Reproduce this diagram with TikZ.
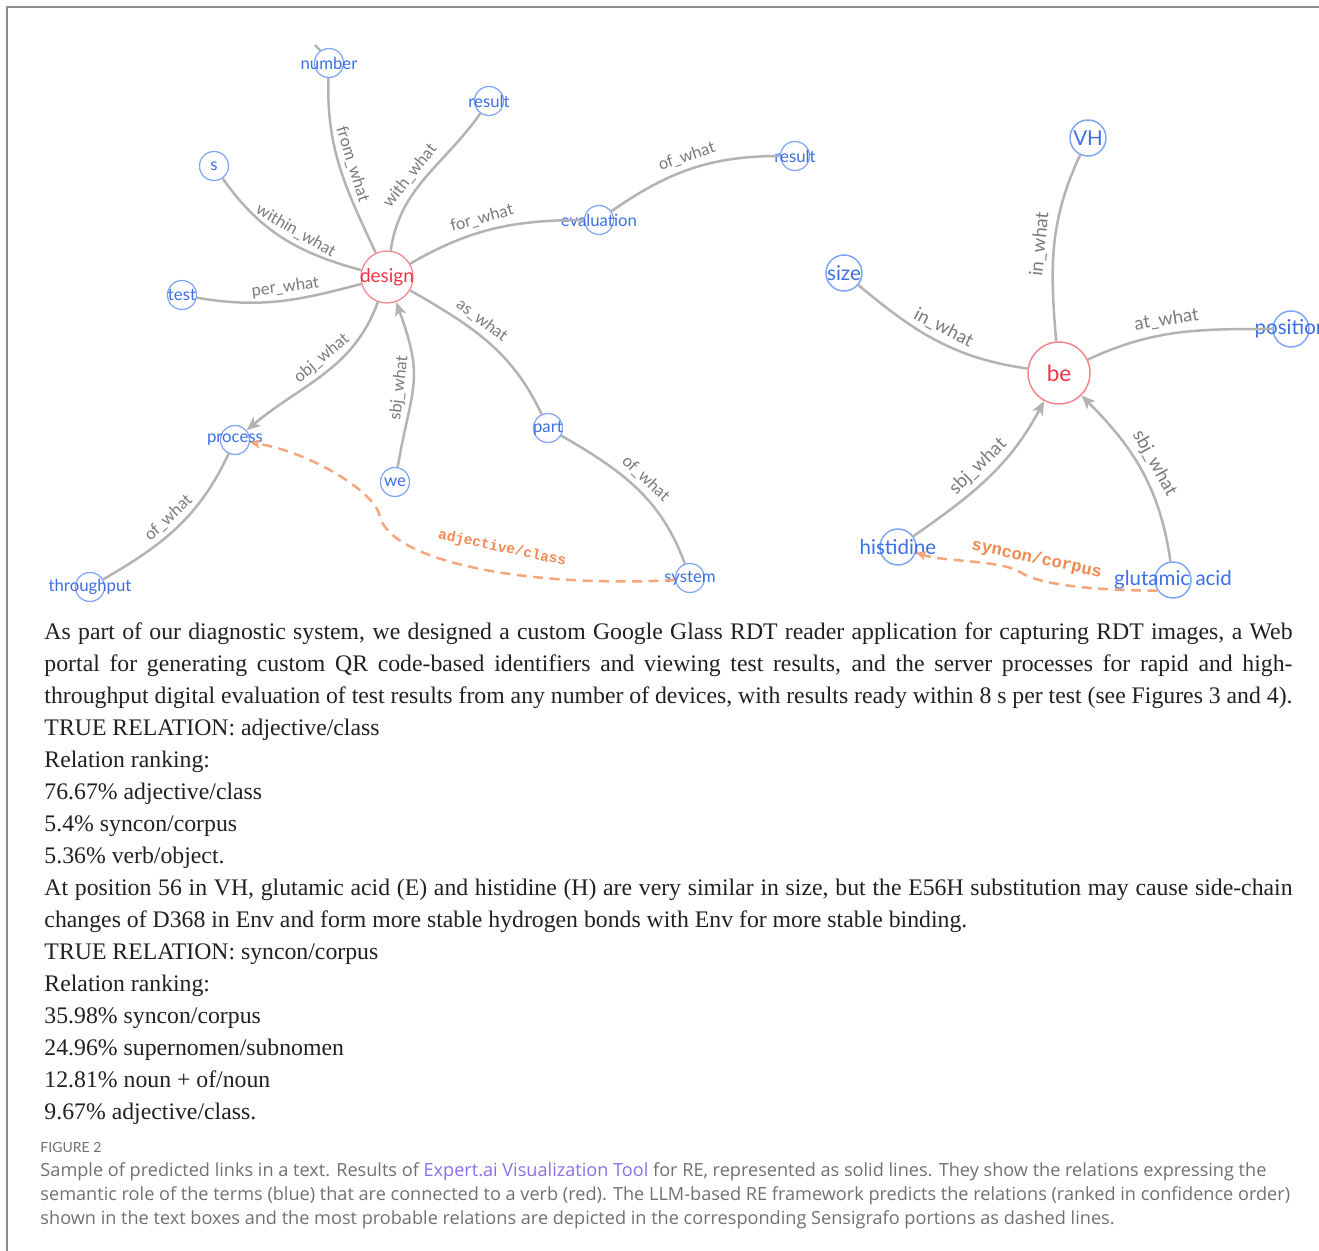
\documentclass[tikz,border=0pt]{standalone}
\usepackage{fontspec}
\setmainfont{Liberation Serif}
\newfontfamily\labelfont{Lato}
\newfontfamily\capfont{Open Sans}
\newfontfamily\relfont{Liberation Mono}
\usetikzlibrary{arrows.meta}
\definecolor{ringblue}{HTML}{7FA6F5}
\definecolor{termblue}{HTML}{3C6FE4}
\definecolor{ringred}{HTML}{F2868C}
\definecolor{verbred}{HTML}{EE3344}
\definecolor{edgegray}{HTML}{B3B3B3}
\definecolor{labelgray}{HTML}{7A7A7A}
\definecolor{guessorange}{HTML}{F5A67C}
\definecolor{guesstext}{HTML}{F08A52}
\definecolor{framegray}{HTML}{8C8C8C}
\definecolor{capgray}{HTML}{707070}
\definecolor{linkviolet}{HTML}{8A6FE8}
\definecolor{bodyblack}{HTML}{231F20}
\newcommand{\fullline}[1]{\hbox to 499.2pt{#1}}

\begin{document}
\begin{tikzpicture}[x=0.4pt,y=0.4pt,
  term/.style={circle,draw=ringblue,line width=0.5pt,inner sep=0pt,minimum size=11.6pt,
    label={[text=termblue,font=\labelfont\fontsize{6.7}{7}\selectfont]center:#1}},
  bigterm/.style={circle,draw=ringblue,line width=0.6pt,inner sep=0pt,minimum size=14.4pt,
    label={[text=termblue,font=\labelfont\fontsize{8.2}{9}\selectfont]center:#1}},
  verb/.style={circle,draw=ringred,line width=0.5pt,inner sep=0pt,minimum size=20.8pt,
    label={[text=verbred,font=\labelfont\fontsize{7.6}{8}\selectfont]center:#1}},
  bigverb/.style={circle,draw=ringred,line width=0.6pt,inner sep=0pt,minimum size=24.8pt,
    label={[text=verbred,font=\labelfont\fontsize{9}{10}\selectfont]center:#1}},
  rel/.style={draw=edgegray,line width=1pt},
  arr/.style={rel,-{Stealth[length=5.5pt,width=4.6pt,inset=1.4pt]}},
  guess/.style={draw=guessorange,line width=1pt,dash pattern=on 4pt off 2.6pt,
    -{Stealth[length=4pt,width=3.6pt,inset=0.8pt]}},
  relname/.style={text=labelgray,font=\labelfont\fontsize{6.6}{7}\selectfont,inner sep=1.8pt},
  bigrelname/.style={text=labelgray,font=\labelfont\fontsize{7.4}{8}\selectfont,inner sep=2pt},
  guessname/.style={text=guesstext,font=\relfont\bfseries\fontsize{5.8}{6}\selectfont,inner sep=1.5pt},
  bigguessname/.style={text=guesstext,font=\relfont\bfseries\fontsize{6.8}{7}\selectfont,inner sep=1.5pt},
  textline/.style={anchor=base west,inner sep=0pt,text=bodyblack,font=\fontsize{9.5}{11}\selectfont},
  capline/.style={anchor=base west,inner sep=0pt,text=capgray,font=\capfont\fontsize{7.25}{8}\selectfont}]
  \useasboundingbox (0,0) rectangle (1319,-1251);
  \clip (0,0) rectangle (1319,-1251);
  % frame
  \draw[framegray,line width=0.8pt] (7,-1251) -- (7,-7) -- (1319,-7);

  % left graph: design
  \node[verb=design] (design) at (387,-277) {};
  \node[term=number] (number) at (329,-63) {};
  \node[term=result] (result1) at (489,-101) {};
  \node[term=s] (s) at (214,-166) {};
  \node[term=evaluation] (evaluation) at (599,-220) {};
  \node[term=result] (result2) at (795,-156) {};
  \node[term=test] (test) at (182,-295) {};
  \node[term=process] (process) at (235,-440) {};
  \node[term=we] (we) at (395,-482) {};
  \node[term=part] (part) at (548,-428) {};
  \node[term=throughput] (throughput) at (90,-587) {};
  \node[term=system] (system) at (690,-578) {};
  \coordinate (offedge) at (315,-45);
  \coordinate (adjbend) at (380,-517);

  \draw[rel] (number.125) -- (offedge);
  \draw[rel] (number) to[out=-92,in=115] node[relname,pos=.5,sloped,above] {from\_what} (design);
  \draw[rel] (design) to[out=82,in=-125] node[relname,pos=.45,sloped,above] {with\_what} (result1);
  \draw[rel] (s) to[out=-55,in=165] node[relname,pos=.55,sloped,above] {within\_what} (design);
  \draw[rel] (design) to[out=30,in=180] node[relname,pos=.45,sloped,above] {for\_what} (evaluation);
  \draw[rel] (evaluation) to[out=35,in=180] node[relname,pos=.5,sloped,above] {of\_what} (result2);
  \draw[rel] (test) to[out=-10,in=195] node[relname,pos=.55,sloped,above] {per\_what} (design);
  \draw[rel] (design) to[out=-30,in=115] node[relname,pos=.4,sloped,above] {as\_what} (part);
  \draw[rel] (part) to[out=-30,in=110] node[relname,pos=.5,sloped,above] {of\_what} (system);
  \draw[arr] (design) to[out=-110,in=40] node[relname,pos=.45,sloped,above] {obj\_what} (process);
  \draw[arr] (we) to[out=80,in=-70,looseness=1.3] node[relname,pos=.45,sloped,above] {sbj\_what} (design);
  \draw[rel] (process) to[out=-115,in=30] node[relname,pos=.5,sloped,above] {of\_what} (throughput);
  \draw[guess] (system.188) .. controls (520,-588) and (392,-560) .. node[guessname,pos=.43,rotate=-12,above=5pt] {adjective/class} (adjbend)
    .. controls (376,-492) and (310,-452) .. (process);

  % right graph: be
  \node[bigverb=be] (be) at (1059,-373) {};
  \node[bigterm=VH] (VH) at (1088,-138) {};
  \node[bigterm=size] (size) at (844,-273) {};
  \node[bigterm=position] (position) at (1291,-329) {};
  \node[bigterm=histidine] (histidine) at (898,-547) {};
  \node[bigterm=glutamic acid] (glutamic) at (1173,-580) {};
  \coordinate (synbend) at (1020,-572);

  \draw[rel] (be) to[out=95,in=-115] node[bigrelname,pos=.5,sloped,above] {in\_what} (VH);
  \draw[rel] (size) to[out=-40,in=172] node[bigrelname,pos=.5,sloped,above] {in\_what} (be);
  \draw[rel] (be) to[out=25,in=180] node[bigrelname,pos=.45,sloped,above] {at\_what} (position);
  \draw[arr] (histidine) to[out=35,in=-118] node[bigrelname,pos=.5,sloped,above] {sbj\_what} (be);
  \draw[arr] (glutamic) to[out=98,in=-45] node[bigrelname,pos=.5,sloped,above] {sbj\_what} (be);
  \draw[guess] (glutamic.215) .. controls (1090,-590) and (1040,-585) .. node[bigguessname,pos=.83,rotate=-12,above=2.5pt] {syncon/corpus} (synbend)
    .. controls (1000,-560) and (945,-562) .. (histidine);

  % sample text
  \node[textline] (line1) at (44,-639) {\fullline{As part of our diagnostic system, we designed a custom Google Glass RDT reader application for capturing RDT images, a Web}};
  \node[textline] (line2) at (44,-671) {\fullline{portal for generating custom QR code-based identifiers and viewing test results, and the server processes for rapid and high-}};
  \node[textline] (line3) at (44,-703) {\fullline{throughput digital evaluation of test results from any number of devices, with results ready within 8 s per test (see Figures 3 and 4).}};
  \node[textline] (line9) at (44,-895) {\fullline{At position 56 in VH, glutamic acid (E) and histidine (H) are very similar in size, but the E56H substitution may cause side-chain}};
  \foreach \n/\y/\t in {4/735/{TRUE RELATION: adjective/class},5/767/{Relation ranking:},
      6/799/{76.67\% adjective/class},7/831/{5.4\% syncon/corpus},8/863/{5.36\% verb/object.},
      10/927/{changes of D368 in Env and form more stable hydrogen bonds with Env for more stable binding.},
      11/959/{TRUE RELATION: syncon/corpus},12/991/{Relation ranking:},13/1023/{35.98\% syncon/corpus},
      14/1055/{24.96\% supernomen/subnomen},15/1087/{12.81\% noun + of/noun},16/1119/{9.67\% adjective/class.}}
    \node[textline] (line\n) at (44,-\y) {\t};

  % caption
  \node[capline,font=\labelfont\fontsize{5.6}{6}\selectfont] (figno) at (40,-1152) {FIGURE 2};
  \node[capline] (cap1) at (40,-1176) {Sample of predicted links in a text. Results of \textcolor{linkviolet}{Expert.ai Visualization Tool} for RE, represented as solid lines. They show the relations expressing the};
  \node[capline] (cap2) at (40,-1200) {semantic role of the terms (blue) that are connected to a verb (red). The LLM-based RE framework predicts the relations (ranked in confidence order)};
  \node[capline] (cap3) at (40,-1224) {shown in the text boxes and the most probable relations are depicted in the corresponding Sensigrafo portions as dashed lines.};
\end{tikzpicture}
\end{document}
